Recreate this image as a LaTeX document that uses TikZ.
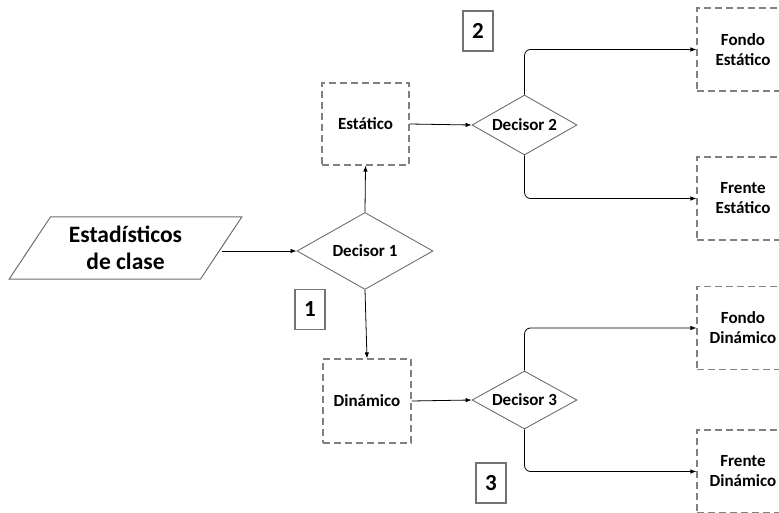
\documentclass[tikz,border=0pt]{standalone}
\usepackage{fontspec}
\setmainfont{Carlito}
\usetikzlibrary{shapes.geometric,arrows.meta}
\definecolor{edgegray}{HTML}{6E6E6E}
\definecolor{dashgray}{HTML}{808080}
\begin{document}
\begin{tikzpicture}[x=1bp,y=-1bp,
  boxfont/.style={font=\bfseries\fontsize{17bp}{20bp}\selectfont},
  stepbox/.style={draw=dashgray, dash pattern=on 7bp off 4bp, line width=1.1bp,
    minimum width=87bp, minimum height=82bp, inner sep=0pt, align=center, boxfont},
  outbox/.style={stepbox, minimum width=92bp, minimum height=83bp},
  % the diamond keeps its given size; its text sits in a centred label
  decision/.style={diamond, draw=edgegray, line width=0.9bp, inner sep=0pt,
    label={[boxfont, inner sep=0pt]center:#1}},
  numbox/.style={draw=black!55, line width=1.1bp, minimum width=30bp,
    minimum height=40bp, inner sep=0pt, font=\bfseries\fontsize{23bp}{23bp}\selectfont},
  inputbox/.style={trapezium, trapezium stretches=true,
    trapezium left angle=54.6, trapezium right angle=125.4,
    draw=edgegray, line width=1bp, minimum width=233bp, minimum height=62bp,
    inner sep=0pt, align=center, font=\bfseries\fontsize{23.5bp}{27bp}\selectfont},
  arr/.style={-{Latex[length=6bp,width=4.5bp]}, line width=0.8bp, draw=black},
  branch/.style={arr, rounded corners=6bp},
]
\useasboundingbox (0,0) rectangle (779,513);
\clip (0,0) rectangle (779,513);

% input data
\node[inputbox] (stats) at (125.5,248) {Estadísticos\\de clase};

% first decision and its two outcomes
\node[decision=Decisor 1, minimum width=136bp, minimum height=77bp] (d1) at (365,251) {};
\node[stepbox] (est) at (365.5,124) {Estático};
\node[stepbox, minimum width=88bp, minimum height=84bp] (din) at (367,401) {Dinámico};

% second-level decisions
\node[decision=Decisor 2, minimum width=105bp, minimum height=60bp] (d2) at (524.5,125) {};
\node[decision=Decisor 3, minimum width=105bp, minimum height=58bp] (d3) at (524.5,400) {};

% final classes
\node[outbox] (fe) at (743,49.5) {Fondo\\Estático};
\node[outbox] (ce) at (743,198.5) {Frente\\Estático};
\node[outbox] (fd) at (743,328) {Fondo\\Dinámico};
\node[outbox] (cd) at (743,471.5) {Frente\\Dinámico};

% stage numbers
\node[numbox] (n1) at (310,309.5) {1};
\node[numbox] (n2) at (478,31) {2};
\node[numbox] (n3) at (491,483) {3};

% connectors
\draw[arr] (stats.east |- d1.west) -- (d1.west);
\draw[arr] (d1.north) -- (est.south);
\draw[arr] (d1.south) -- (din.north);
\draw[arr] (est.east) -- (d2.west);
\draw[arr] (din.east) -- (d3.west);
\draw[branch] (d2.north) |- (fe.west);
\draw[branch] (d2.south) |- (ce.west);
\draw[branch] (d3.north) |- (fd.west);
\draw[branch] (d3.south) |- (cd.west);
\end{tikzpicture}
\end{document}
